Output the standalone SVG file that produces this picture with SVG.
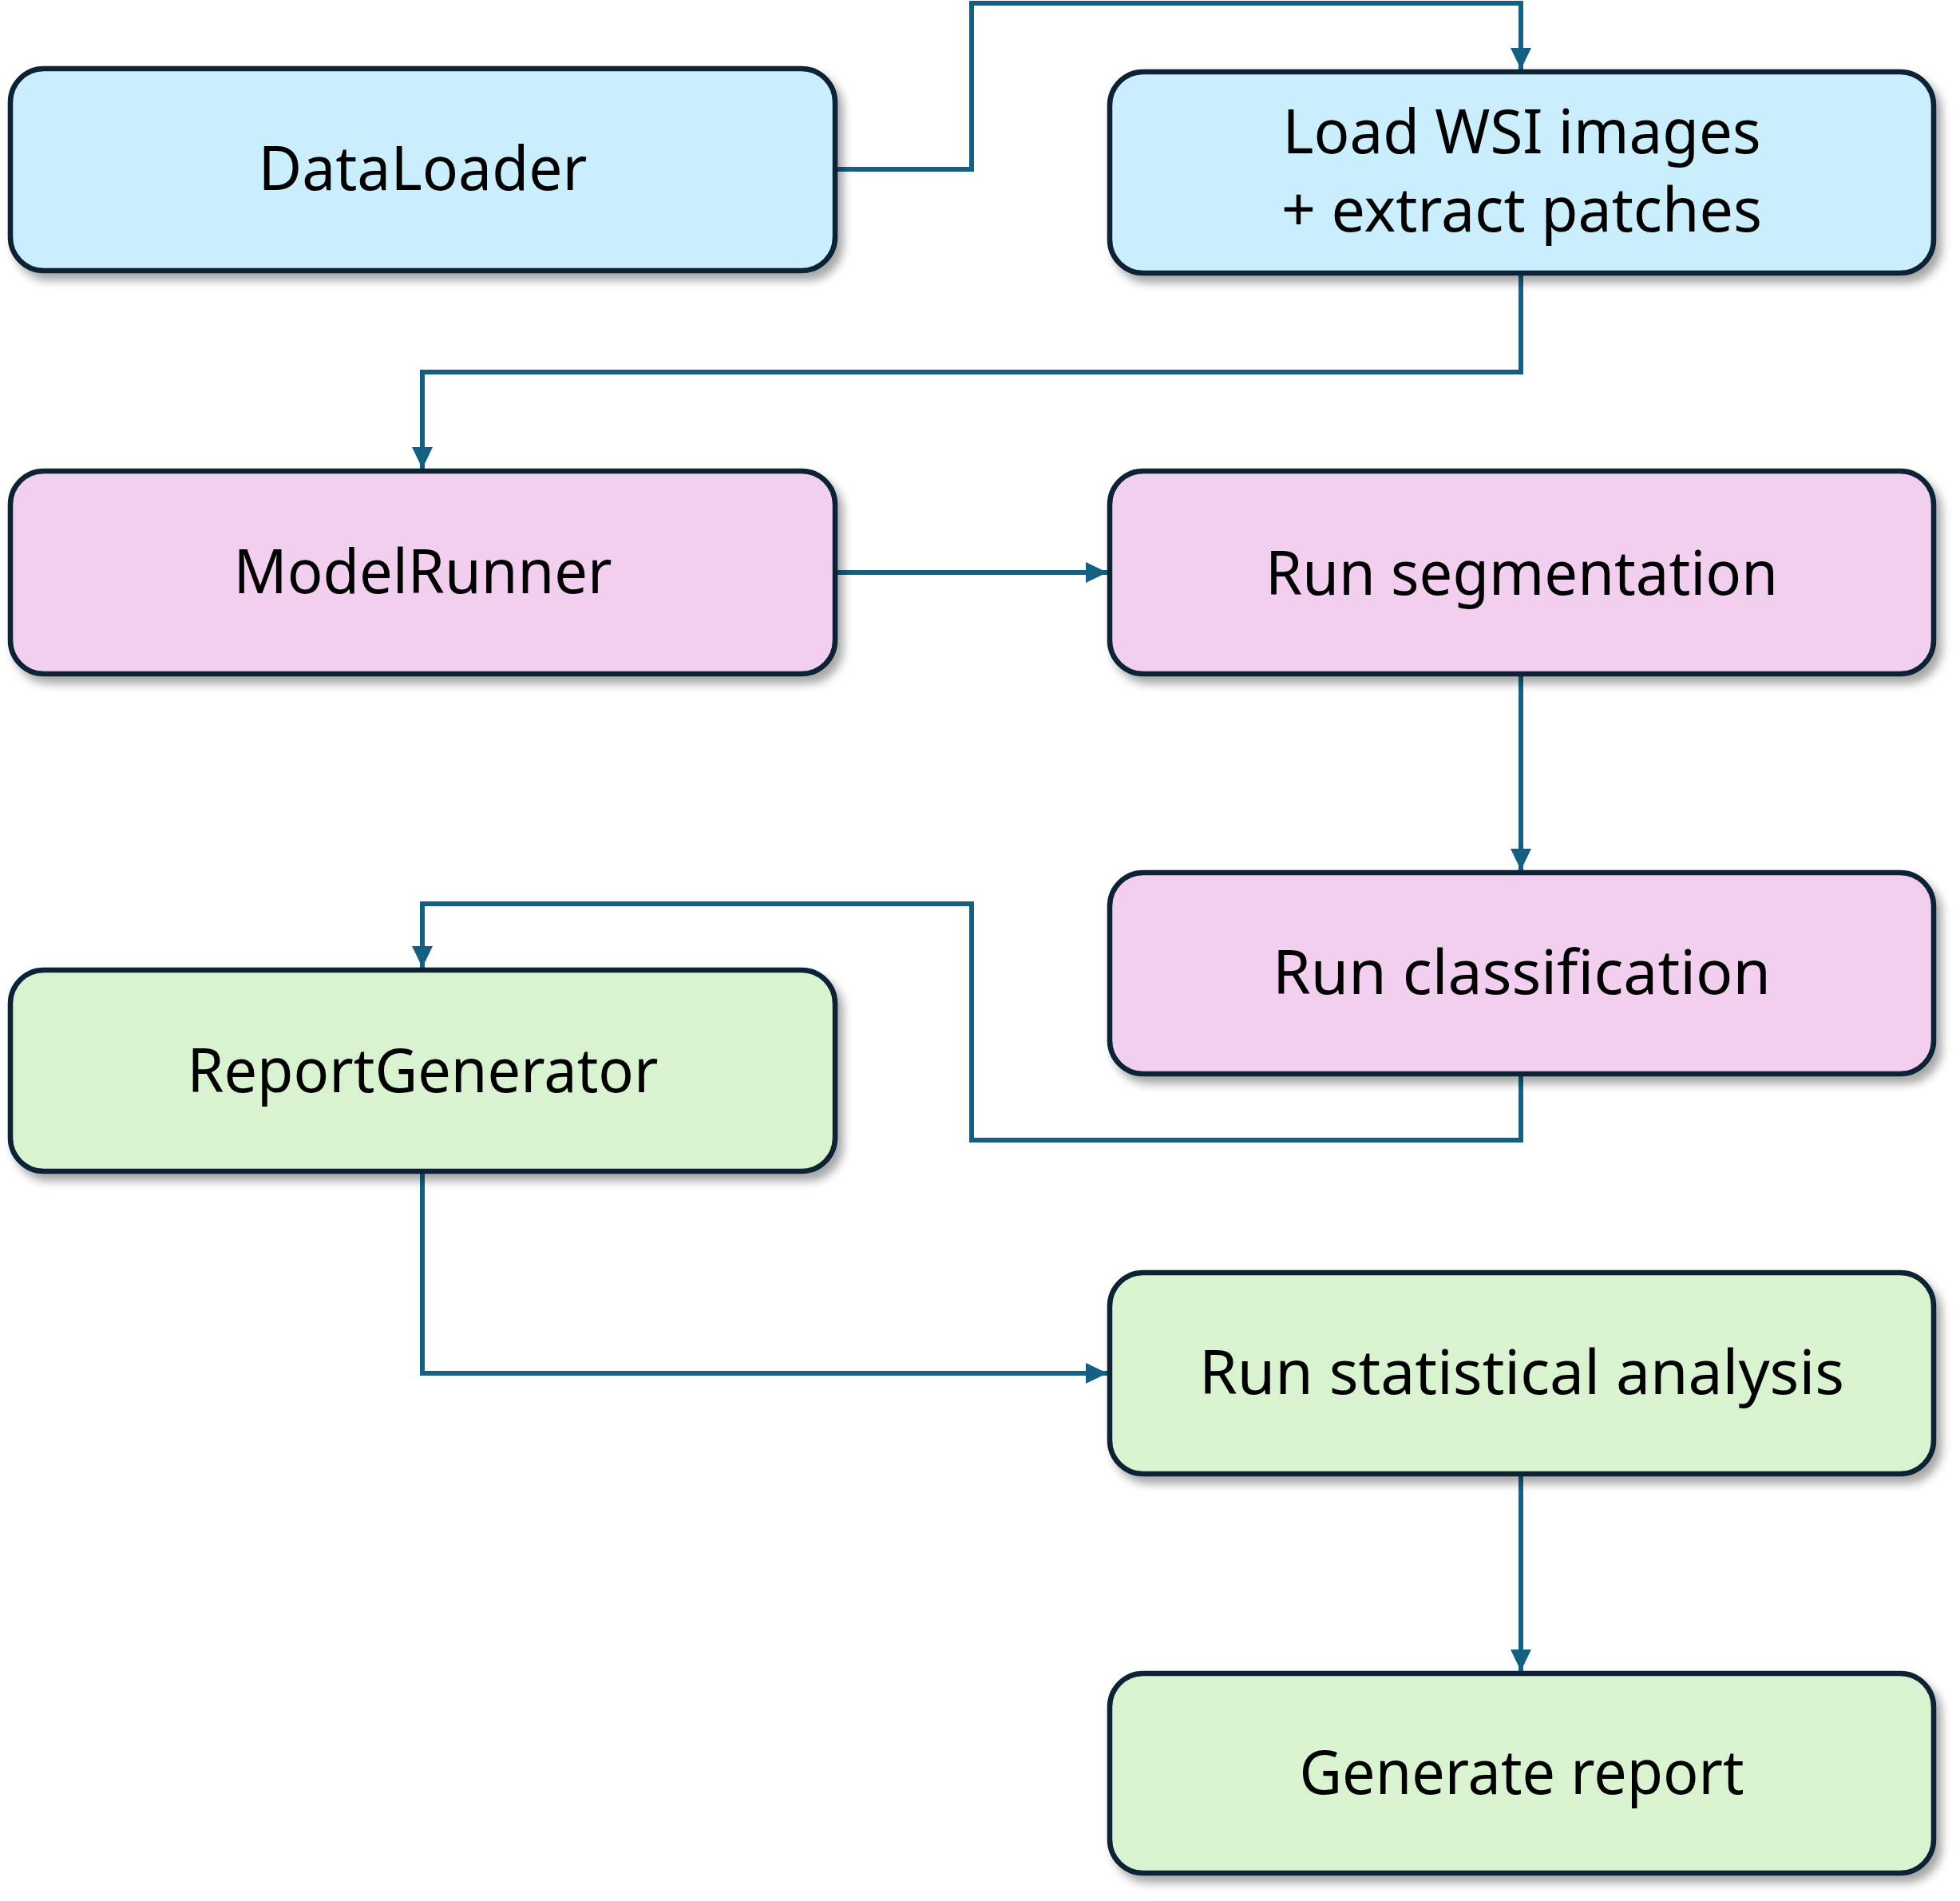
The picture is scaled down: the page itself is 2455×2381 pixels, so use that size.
<svg xmlns="http://www.w3.org/2000/svg" width="2455" height="2381" viewBox="0 0 2455 2381">
<style>
.box{stroke:#072436;stroke-width:6.5;filter:url(#sh)}
.blue{fill:#CAEEFB}
.pink{fill:#F2CFEE}
.green{fill:#D9F2D0}
.lbl{font-family:"Noto Sans","Open Sans","DejaVu Sans",sans-serif;font-size:77px;fill:#000;text-anchor:middle}
.con{fill:none;stroke:#156082;stroke-width:6;marker-end:url(#ah)}
</style>
<defs>
<filter id="sh" x="-5%" y="-10%" width="115%" height="130%">
<feDropShadow dx="7" dy="9" stdDeviation="6" flood-color="#000" flood-opacity="0.35"/>
</filter>
<marker id="ah" markerUnits="userSpaceOnUse" markerWidth="28" markerHeight="26" refX="27" refY="13" orient="auto">
<path d="M0,0 L27,13 L0,26 z" fill="#156082"/>
</marker>
</defs>
<rect width="2455" height="2381" fill="#fff"/>
<g id="connectors">
<path class="con" d="M1046,212 H1217 V4 H1905 V87"/>
<path class="con" d="M1905,343 V466 H529 V587"/>
<path class="con" d="M1046,717 H1387"/>
<path class="con" d="M1905,847 V1090"/>
<path class="con" d="M1905,1348 V1428 H1217 V1132 H529 V1212"/>
<path class="con" d="M529,1470 V1720 H1387"/>
<path class="con" d="M1905,1849 V2093"/>
</g>
<g id="n-dataloader">
<rect class="box blue" x="13" y="86" width="1033" height="253" rx="42"/>
<text class="lbl" x="529.5" y="238" textLength="412" lengthAdjust="spacingAndGlyphs">DataLoader</text>
</g>
<g id="n-loadwsi">
<rect class="box blue" x="1390" y="90" width="1032" height="252" rx="42"/>
<text class="lbl" x="1906" y="192" textLength="599" lengthAdjust="spacingAndGlyphs">Load WSI images</text>
<text class="lbl" x="1906" y="290" textLength="602" lengthAdjust="spacingAndGlyphs">+ extract patches</text>
</g>
<g id="n-modelrunner">
<rect class="box pink" x="13" y="590" width="1033" height="254" rx="42"/>
<text class="lbl" x="529.5" y="743" textLength="474" lengthAdjust="spacingAndGlyphs">ModelRunner</text>
</g>
<g id="n-segmentation">
<rect class="box pink" x="1390" y="590" width="1032" height="254" rx="42"/>
<text class="lbl" x="1906" y="745" textLength="642" lengthAdjust="spacingAndGlyphs">Run segmentation</text>
</g>
<g id="n-classification">
<rect class="box pink" x="1390" y="1093" width="1032" height="252" rx="42"/>
<text class="lbl" x="1906" y="1245" textLength="624" lengthAdjust="spacingAndGlyphs">Run classification</text>
</g>
<g id="n-reportgenerator">
<rect class="box green" x="13" y="1215" width="1033" height="252" rx="42"/>
<text class="lbl" x="529.5" y="1368" textLength="590" lengthAdjust="spacingAndGlyphs">ReportGenerator</text>
</g>
<g id="n-statistical">
<rect class="box green" x="1390" y="1594" width="1032" height="252" rx="42"/>
<text class="lbl" x="1906" y="1746" textLength="808" lengthAdjust="spacingAndGlyphs">Run statistical analysis</text>
</g>
<g id="n-generatereport">
<rect class="box green" x="1390" y="2096" width="1032" height="250" rx="42"/>
<text class="lbl" x="1906" y="2247" textLength="557" lengthAdjust="spacingAndGlyphs">Generate report</text>
</g>
</svg>
